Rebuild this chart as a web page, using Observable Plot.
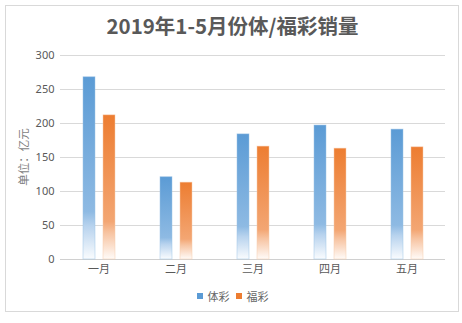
<!DOCTYPE html>
<html>
<head>
<meta charset="utf-8">
<script src="https://cdn.jsdelivr.net/npm/d3@7"></script>
<script src="https://cdn.jsdelivr.net/npm/@observablehq/plot@0.6"></script>
<style>
  html, body { margin: 0; padding: 0; background: #fff; }
  body { width: 462px; height: 323px; position: relative; overflow: hidden; font-family: "Noto Sans CJK SC", "Noto Sans", sans-serif; }
  #frame { position: absolute; left: 5px; top: 5px; width: 454px; height: 307px; border: 1px solid #d9d9d9; box-sizing: border-box; }
  #title { position: absolute; left: 5px; width: 455px; top: 10px; text-align: center; font-size: 20.5px; font-weight: bold; color: #595959; line-height: 30px; }
  #chart { position: absolute; left: 0; top: 40px; }
  #legend { position: absolute; left: 5px; width: 455px; top: 288px; display: flex; justify-content: center; align-items: center; font-size: 11px; color: #666; line-height: 16px; }
  .sw { display: inline-block; width: 6px; height: 6px; margin-right: 5px; }
  .item { display: flex; align-items: center; margin: 0 3px; }
</style>
</head>
<body>
<div id="frame"></div>
<div id="title">2019年1-5月份体/福彩销量</div>
<div id="chart"></div>
<div id="legend"></div>
<script>
const months = ["一月", "二月", "三月", "四月", "五月"];
const series = ["体彩", "福彩"];
const sportsLottery = [268, 121, 184, 197, 191];
const welfareLottery = [212, 113, 166, 163, 165];
const yTicks = [0, 50, 100, 150, 200, 250, 300];
const yLabel = "单位：亿元";
const colors = ["#5B9BD5", "#ED7D31"];

const rows = months.flatMap((m, i) => [
  {month: m, series: series[0], value: sportsLottery[i]},
  {month: m, series: series[1], value: welfareLottery[i]}
]);

const svg = Plot.plot({
  width: 462,
  height: 240,
  marginLeft: 58,
  marginRight: 15,
  marginTop: 15,
  marginBottom: 21,
  style: {fontFamily: "'Noto Sans', 'Noto Sans CJK SC', sans-serif", fontSize: "11px", color: "#595959", background: "transparent"},
  fx: {domain: months, padding: 0, label: null, tickSize: 0, tickPadding: 6},
  x: {domain: series, paddingInner: 0.41, paddingOuter: 1.04, axis: null},
  y: {domain: [0, 300]},
  marks: [
    Plot.gridY(yTicks, {stroke: "#d9d9d9", strokeOpacity: 1}),
    Plot.ruleY([0], {stroke: "#d0d0d0"}),
    Plot.axisY(yTicks, {tickSize: 0, tickPadding: 6, label: null}),
    Plot.barY(rows.filter(d => d.series === series[0]), {fx: "month", x: "series", y: "value", fill: "url(#gBlue)", stroke: "#9DC3E6", strokeOpacity: 0.6, strokeWidth: 0.8}),
    Plot.barY(rows.filter(d => d.series === series[1]), {fx: "month", x: "series", y: "value", fill: "url(#gOrange)", stroke: "#F8CBAD", strokeOpacity: 0.6, strokeWidth: 0.8})
  ]
});

const root = d3.select(svg);
const defs = root.insert("defs", ":first-child");
function grad(id, stops) {
  const g = defs.append("linearGradient").attr("id", id).attr("x1", 0).attr("y1", 0).attr("x2", 0).attr("y2", 1);
  stops.forEach(([o, c]) => g.append("stop").attr("offset", o).attr("stop-color", c));
}
grad("gBlue", [[0, "#5B9BD5"], [0.74, "#8EBAE3"], [0.82, "#B8D3EE"], [1, "#FAFCFE"]]);
grad("gOrange", [[0, "#ED7D31"], [0.74, "#F3A673"], [0.82, "#F7C4A2"], [1, "#FFFBF8"]]);

// rotated y-axis title, centred on the plot's vertical extent
root.append("text")
  .attr("transform", "translate(25,117) rotate(-90)")
  .attr("text-anchor", "middle")
  .attr("dominant-baseline", "middle")
  .attr("fill", "#7f7f7f")
  .attr("font-family", "'Noto Sans CJK SC', sans-serif")
  .attr("font-size", "11.5px")
  .text(yLabel);

document.getElementById("chart").appendChild(svg);

const legend = document.getElementById("legend");
series.forEach((s, i) => {
  const item = document.createElement("span");
  item.className = "item";
  item.innerHTML = `<span class="sw" style="background:${colors[i]}"></span><span>${s}</span>`;
  legend.appendChild(item);
});
</script>
</body>
</html>
